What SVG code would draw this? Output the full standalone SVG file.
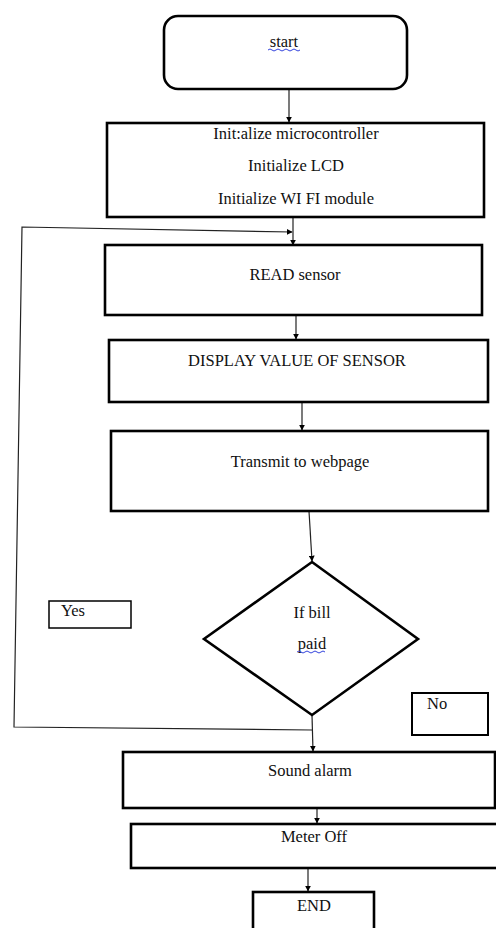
<svg xmlns="http://www.w3.org/2000/svg" width="496" height="928" viewBox="0 0 496 928">
<style>
.box{fill:#fff;stroke:#000;stroke-width:2.6}
.lbl{fill:#fff;stroke:#000}
text{font-family:'Times New Roman',Times,'Liberation Serif',Tinos,'Nimbus Roman','DejaVu Serif',serif;font-size:16.5px;fill:#111}
.t{text-anchor:middle}
.c{fill:none;stroke:#222;stroke-width:1.2}
.sq{fill:none;stroke:#3344dd;stroke-width:1}
</style>
<defs>
<marker id="ah" viewBox="0 0 10 10" refX="9" refY="5" markerWidth="6" markerHeight="6" orient="auto" markerUnits="userSpaceOnUse">
<path d="M0,0 L10,5 L0,10 z" fill="#000"/>
</marker>
</defs>
<rect width="496" height="928" fill="#fff"/>
<g id="connectors">
<path class="c" d="M289,89 L289,122" marker-end="url(#ah)"/>
<path class="c" d="M293,217 L293,245" marker-end="url(#ah)"/>
<path class="c" d="M312,730 L14,727 L22,227 L292,232" marker-end="url(#ah)"/>
<path class="c" d="M296,315 L296,339" marker-end="url(#ah)"/>
<path class="c" d="M302,402 L302,430" marker-end="url(#ah)"/>
<path class="c" d="M309,511 L312,561" marker-end="url(#ah)"/>
<path class="c" d="M312,715 L313,751" marker-end="url(#ah)"/>
<path class="c" d="M317,808 L317,823" marker-end="url(#ah)"/>
<path class="c" d="M308,868 L308,891" marker-end="url(#ah)"/>
</g>
<g id="start">
<rect class="box" x="164" y="16" width="243" height="73" rx="14"/>
<text class="t" x="284" y="47">start</text>
<path class="sq" d="M268,50 q2,-2 4,0 t4,0 t4,0 t4,0 t4,0 t4,0 t4,0 t4,0"/>
</g>
<g id="init">
<rect class="box" x="107" y="123" width="377" height="94"/>
<text class="t" x="296" y="139">Init:alize microcontroller</text>
<text class="t" x="296" y="171">Initialize LCD</text>
<text class="t" x="296" y="204">Initialize WI FI module</text>
</g>
<g id="read">
<rect class="box" x="105" y="245" width="377" height="70"/>
<text class="t" x="295" y="280">READ sensor</text>
</g>
<g id="display">
<rect class="box" x="109" y="340" width="379" height="62"/>
<text class="t" x="297" y="366">DISPLAY VALUE OF SENSOR</text>
</g>
<g id="transmit">
<rect class="box" x="111" y="431" width="377" height="80"/>
<text class="t" x="300" y="467">Transmit to webpage</text>
</g>
<g id="decision">
<polygon class="box" points="312,562 418,639 312,715 204,639"/>
<text class="t" x="312" y="618">If bill</text>
<text class="t" x="312" y="649">paid</text>
<path class="sq" d="M297,652 q2,-2 4,0 t4,0 t4,0 t4,0 t4,0 t4,0 t4,0"/>
</g>
<g id="yes">
<rect class="lbl" stroke-width="1.5" x="49" y="601" width="82" height="27"/>
<text x="61" y="616">Yes</text>
</g>
<g id="no">
<rect class="lbl" stroke-width="2" x="412" y="693" width="76" height="42"/>
<text x="427" y="709">No</text>
</g>
<g id="sound">
<rect class="box" x="123" y="752" width="372" height="56"/>
<text class="t" x="310" y="776">Sound alarm</text>
</g>
<g id="meter">
<rect class="box" x="131" y="824" width="370" height="44"/>
<text class="t" x="314" y="842">Meter Off</text>
</g>
<g id="end">
<rect class="box" x="253" y="892" width="121" height="45"/>
<text class="t" x="314" y="911">END</text>
</g>
</svg>
